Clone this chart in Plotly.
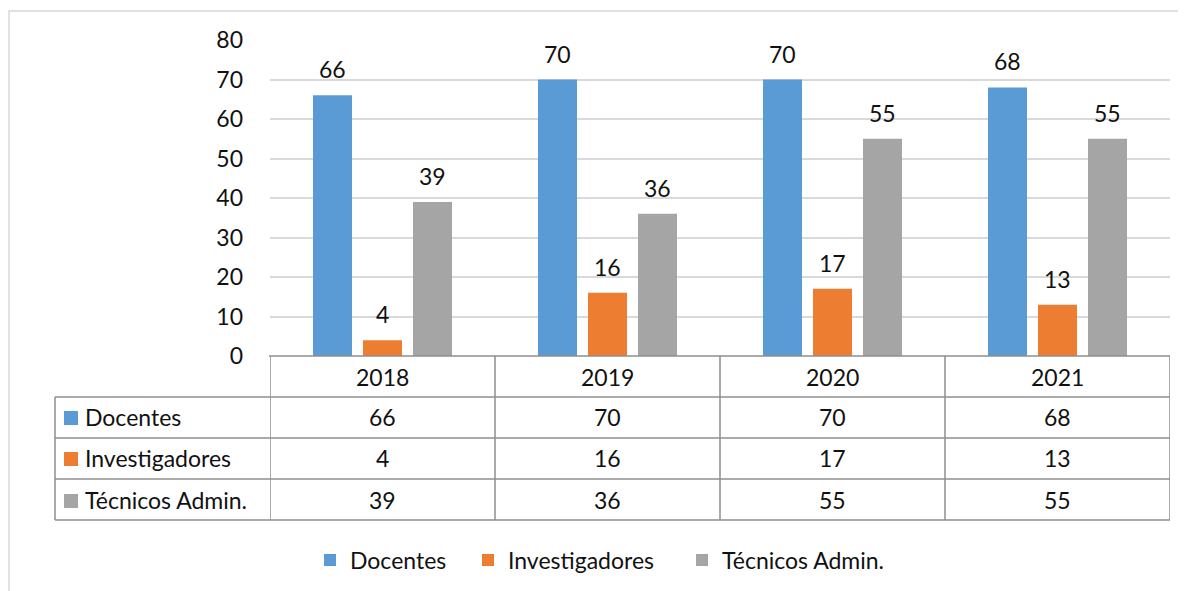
import plotly.graph_objects as go

categories = ["2018", "2019", "2020", "2021"]
docentes = [66, 70, 70, 68]
investigadores = [4, 16, 17, 13]
tecnicos = [39, 36, 55, 55]
series_names = ["Docentes", "Investigadores", "Técnicos Admin."]
series_values = [docentes, investigadores, tecnicos]
colors = ["#5B9BD5", "#ED7D31", "#A5A5A5"]
y_ticks = [0, 10, 20, 30, 40, 50, 60, 70, 80]

OFF = 8  # page body margin
FIG_W, FIG_H = 1186 - OFF, 591 - OFF
PL, PR, PT, PB = 270 - OFF, 1170 - OFF, 40 - OFF, 356 - OFF
W, H = PR - PL, PB - PT
FONT = "Lato"
FS_NUM = 23
FS_NAME = 23
FS_LEG = 23
TXT = "#111111"
LINE = "#8E8E8E"


def px(x):
    return (x - OFF - PL) / W


def py(y):
    return (PB - (y - OFF)) / H


legend_ids = ["legend", "legend2", "legend3"]
legend_x = [310, 468, 682]

fig = go.Figure()
for name, vals, col, lid in zip(series_names, series_values, colors, legend_ids):
    fig.add_trace(go.Bar(x=categories, y=vals, name=name, legend=lid,
                         marker=dict(color=col, line=dict(width=0))))

# data labels
offsets = [-50, 0, 50]
for vals, off in zip(series_values, offsets):
    for i, v in enumerate(vals):
        fig.add_annotation(x=i, y=v, xref="x", yref="y", text=str(v), showarrow=False,
                           xshift=off, yshift=26, yanchor="middle",
                           font=dict(family=FONT, size=FS_NUM, color=TXT))

shapes = []
# outer chart border
shapes.append(dict(type="rect", xref="paper", yref="paper", x0=px(9), x1=px(1200), y0=py(11), y1=py(610),
                   line=dict(color="#D9D9D9", width=1.5), layer="below"))
# table horizontal lines
shapes.append(dict(type="line", xref="paper", yref="paper", x0=px(269), x1=px(1170), y0=py(356), y1=py(356),
                   line=dict(color=LINE, width=1.5)))
for yy in [397, 438, 479, 520]:
    shapes.append(dict(type="line", xref="paper", yref="paper", x0=px(55), x1=px(1170), y0=py(yy), y1=py(yy),
                       line=dict(color=LINE, width=1.5)))
# vertical lines
for i in range(len(categories) + 1):
    shapes.append(dict(type="line", xref="x", yref="paper", x0=i - 0.5, x1=i - 0.5, y0=py(356), y1=py(520),
                       line=dict(color=LINE, width=1.5)))
shapes.append(dict(type="line", xref="paper", yref="paper", x0=px(55), x1=px(55), y0=py(397), y1=py(520),
                   line=dict(color=LINE, width=1.5)))

row_centers = [417, 458, 500]
for (name, vals, col), yc in zip(zip(series_names, series_values, colors), row_centers):
    shapes.append(dict(type="rect", xref="paper", yref="paper", x0=px(64), x1=px(78), y0=py(yc - 6), y1=py(yc + 8),
                       line=dict(width=0), fillcolor=col))
    fig.add_annotation(x=px(83), y=py(yc), xref="paper", yref="paper", text=name, showarrow=False,
                       xanchor="left", yanchor="middle", font=dict(family=FONT, size=FS_NAME, color=TXT))
    for i, v in enumerate(vals):
        fig.add_annotation(x=i, y=py(yc), xref="x", yref="paper", text=str(v), showarrow=False,
                           xanchor="center", yanchor="middle", font=dict(family=FONT, size=FS_NUM, color=TXT))
for i, c in enumerate(categories):
    fig.add_annotation(x=i, y=py(377), xref="x", yref="paper", text=c, showarrow=False,
                       xanchor="center", yanchor="middle", font=dict(family=FONT, size=FS_NUM, color=TXT))

legends = {}
for lid, lx in zip(legend_ids, legend_x):
    legends[lid] = dict(orientation="h", x=px(lx), y=py(560), xanchor="left", yanchor="middle",
                        font=dict(family=FONT, size=FS_LEG, color=TXT), itemwidth=30,
                        bgcolor="rgba(0,0,0,0)")

fig.update_layout(
    width=FIG_W, height=FIG_H,
    margin=dict(l=PL, r=FIG_W - PR, t=PT, b=FIG_H - PB, pad=0, autoexpand=False),
    paper_bgcolor="white", plot_bgcolor="white",
    barmode="group", bargap=1 / 3, bargroupgap=0.22,
    font=dict(family=FONT, size=FS_NUM, color=TXT),
    shapes=shapes,
    showlegend=True,
    xaxis=dict(type="category", showticklabels=False, showgrid=False, zeroline=False, showline=False, ticks="",
               range=[-0.5, len(categories) - 0.5], fixedrange=True),
    yaxis=dict(range=[0, 80], tickvals=y_ticks, showgrid=True, gridcolor="#D9D9D9", gridwidth=1.5,
               zeroline=False, showline=False, ticks="", ticklabelstandoff=26,
               tickfont=dict(family=FONT, size=FS_NUM, color=TXT), fixedrange=True),
    **legends,
)

fig.write_html("out.html")
